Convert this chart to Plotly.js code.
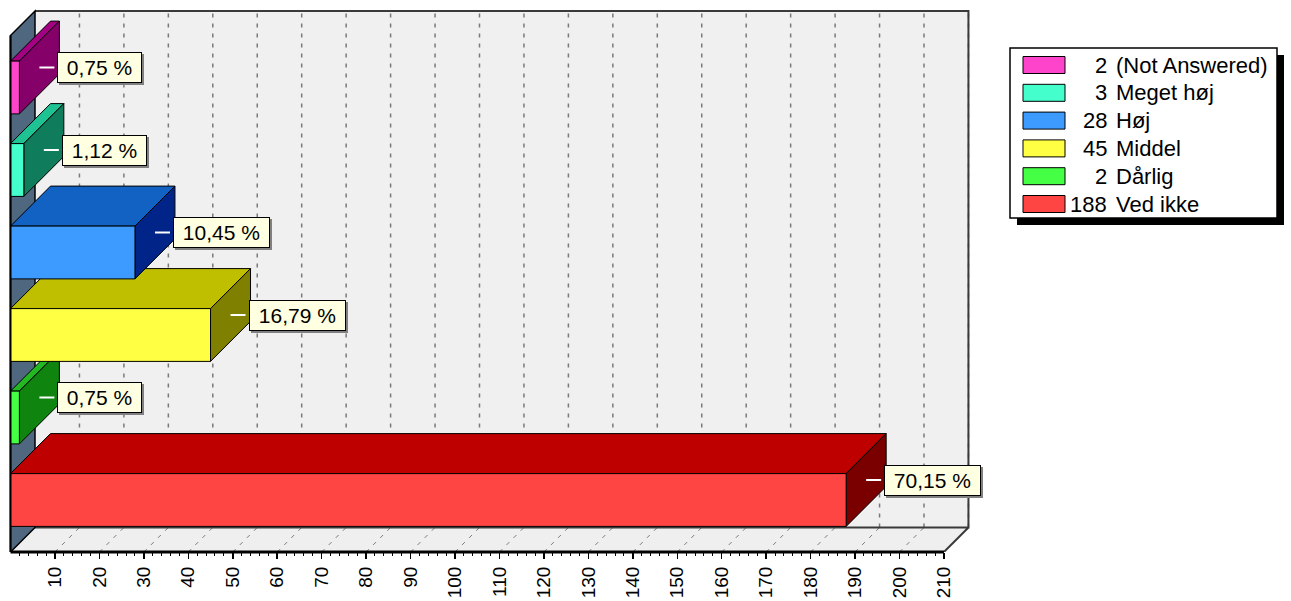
<!DOCTYPE html>
<html>
<head>
<meta charset="utf-8">
<script src="https://cdn.plot.ly/plotly-3.0.1.min.js"></script>
<style>
  html, body { margin: 0; padding: 0; background: #ffffff; }
  #chart { width: 1291px; height: 601px; }
</style>
</head>
<body>
<div id="chart"></div>
<script>
// ---------------- data (top to bottom as shown) ----------------
const categories = ['(Not Answered)', 'Meget høj', 'Høj', 'Middel', 'Dårlig', 'Ved ikke'];
const counts = [2, 3, 28, 45, 2, 188];
const percentLabels = ['0,75 %', '1,12 %', '10,45 %', '16,79 %', '0,75 %', '70,15 %'];
const tickVals = [10, 20, 30, 40, 50, 60, 70, 80, 90, 100, 110, 120, 130, 140, 150, 160, 170, 180, 190, 200, 210];
const tickText = ['10', '20', '30', '40', '50', '60', '70', '80', '90', '100', '110', '120', '130', '140', '150', '160', '170', '180', '190', '200', '210'];
const frontColors = ['#ff44cc', '#44ffcc', '#3d9bff', '#ffff44', '#44ff44', '#ff4444'];
const topColors   = ['#a30082', '#1fc293', '#1262c4', '#bfbf00', '#22b822', '#bf0000'];
const sideColors  = ['#850069', '#0f7d5b', '#002488', '#7f7f00', '#0f850f', '#7a0000'];

// ---------------- geometry (pixel scale of the axes) ----------------
const W = 1291, H = 601, PH = 552;          // plot area = 1291 x 552
const SX = 4.445, X0 = 10.5;                 // px per unit, px of value 0
const SY = 82.5, Y0 = 500;                   // px per category step, px of index 0
const toX = px => (px - X0) / SX;
const toY = py => (Y0 - py) / SY;
const xRange = [toX(0), toX(W)];
const yRange = [toY(PH), toY(0)];

const BAR_H = 0.64;                 // bar thickness in category units
const BDX = 40 / SX, BDY = 40 / SY; // bar depth
const WD = 24.5;                    // wall depth (px)
const WDX = WD / SX;
const FRONT_TOP = 35.5;
const xMax = tickVals[tickVals.length - 1];
const yBottom = yRange[0];
const yBackBottom = toY(PH - WD);
const yFrontTop = toY(FRONT_TOP);
const yBackTop = toY(FRONT_TOP - WD);

const n = categories.length;
const traces = [];
// draw lower bars first, upper bars last
for (let i = n - 1; i >= 0; i--) {
  const v = counts[i];
  const yc = n - 1 - i;
  const y0 = yc - BAR_H / 2, y1 = yc + BAR_H / 2;
  const faces = [
    { x: [0, v, v + BDX, BDX, 0], y: [y1, y1, y1 + BDY, y1 + BDY, y1], c: topColors[i] },
    { x: [v, v + BDX, v + BDX, v, v], y: [y0, y0 + BDY, y1 + BDY, y1, y0], c: sideColors[i] },
    { x: [0, v, v, 0, 0], y: [y0, y0, y1, y1, y0], c: frontColors[i] }
  ];
  faces.forEach(f => traces.push({
    type: 'scatter', mode: 'lines', x: f.x, y: f.y,
    fill: 'toself', fillcolor: f.c,
    line: { color: '#000000', width: 1 },
    hoverinfo: 'skip', showlegend: false
  }));
}

const shapes = [];
const pathOf = pts => 'M ' + pts.map(p => p[0] + ',' + p[1]).join(' L ') + ' Z';
// back wall
shapes.push({ type: 'rect', layer: 'below', xref: 'x', yref: 'y',
  x0: WDX, x1: xMax + WDX, y0: yBackBottom, y1: yBackTop,
  fillcolor: '#f0f0f0', line: { width: 0 } });
// floor
shapes.push({ type: 'path', layer: 'below', xref: 'x', yref: 'y',
  path: pathOf([[0, yBottom], [xMax, yBottom], [xMax + WDX, yBackBottom], [WDX, yBackBottom]]),
  fillcolor: '#efefef', line: { width: 0 } });
// gridlines on back wall and floor
tickVals.forEach(t => {
  shapes.push({ type: 'line', layer: 'below', xref: 'x', yref: 'y',
    x0: t + WDX, x1: t + WDX, y0: yBackBottom, y1: yBackTop,
    line: { color: '#7a7a7a', width: 1.5, dash: '4px,6px' } });
  shapes.push({ type: 'line', layer: 'below', xref: 'x', yref: 'y',
    x0: t, x1: t + WDX, y0: yBottom, y1: yBackBottom,
    line: { color: '#7a7a7a', width: 1, dash: '4px,6px' } });
});
// back wall border lines
shapes.push({ type: 'path', layer: 'below', xref: 'x', yref: 'y',
  path: 'M ' + WDX + ',' + yBackTop + ' L ' + (xMax + WDX) + ',' + yBackTop + ' L ' + (xMax + WDX) + ',' + yBackBottom +
        ' L ' + WDX + ',' + yBackBottom + ' M ' + (xMax + WDX) + ',' + yBackBottom + ' L ' + xMax + ',' + yBottom,
  line: { color: '#3a3a3a', width: 2 } });
// left wall
shapes.push({ type: 'path', layer: 'below', xref: 'x', yref: 'y',
  path: pathOf([[0, yBottom], [0, yFrontTop], [WDX, yBackTop], [WDX, yBackBottom]]),
  fillcolor: '#50687f', line: { color: '#000000', width: 1.5 } });
// axis lines
shapes.push({ type: 'line', layer: 'above', xref: 'x', yref: 'paper',
  x0: 0, x1: xMax, y0: 0, y1: 0, line: { color: '#000000', width: 3 } });
shapes.push({ type: 'line', layer: 'above', xref: 'x', yref: 'y',
  x0: 0, x1: 0, y0: yBottom, y1: yFrontTop, line: { color: '#000000', width: 2 } });

// value labels
const annotations = [];
const labelFont = 'Liberation Sans, Arial, sans-serif';
for (let i = 0; i < n; i++) {
  const hx = counts[i] + BDX / 2;
  const hy = (n - 1 - i) + BDY / 2;
  shapes.push({ type: 'line', layer: 'above', xref: 'x', yref: 'y',
    x0: hx, x1: hx + 15 / SX, y0: hy, y1: hy, line: { color: '#ffffff', width: 2 } });
  const txt = '\u00a0' + percentLabels[i] + '\u00a0';
  annotations.push({ x: hx, y: hy, xref: 'x', yref: 'y', showarrow: false,
    xanchor: 'left', yanchor: 'middle', xshift: 20, yshift: -2, text: txt,
    font: { family: labelFont, size: 21, color: '#808080' },
    bgcolor: '#808080', bordercolor: '#808080', borderwidth: 1, borderpad: 3, height: 23 });
  annotations.push({ x: hx, y: hy, xref: 'x', yref: 'y', showarrow: false,
    xanchor: 'left', yanchor: 'middle', xshift: 18, text: txt,
    font: { family: labelFont, size: 21, color: '#000000' },
    bgcolor: '#ffffe1', bordercolor: '#000000', borderwidth: 1, borderpad: 3, height: 23 });
}

// legend (drawn manually: wide swatches, right-aligned counts)
shapes.push({ type: 'rect', layer: 'above', xref: 'x', yref: 'y',
  x0: toX(1017), x1: toX(1284), y0: toY(225), y1: toY(55), fillcolor: '#000000', line: { width: 0 } });
shapes.push({ type: 'rect', layer: 'above', xref: 'x', yref: 'y',
  x0: toX(1010), x1: toX(1277), y0: toY(218), y1: toY(48), fillcolor: '#ffffff', line: { color: '#000000', width: 1.5 } });
for (let i = 0; i < n; i++) {
  const cy = 65 + 27.8 * i;
  shapes.push({ type: 'rect', layer: 'above', xref: 'x', yref: 'y',
    x0: toX(1023), x1: toX(1065), y0: toY(cy + 8.5), y1: toY(cy - 8.5),
    fillcolor: frontColors[i], line: { color: '#000000', width: 1 } });
  annotations.push({ x: toX(1109), y: toY(cy), xref: 'x', yref: 'y', showarrow: false,
    xanchor: 'right', yanchor: 'middle', text: String(counts[i]),
    font: { family: labelFont, size: 22, color: '#000000' } });
  annotations.push({ x: toX(1114), y: toY(cy), xref: 'x', yref: 'y', showarrow: false,
    xanchor: 'left', yanchor: 'middle', text: categories[i],
    font: { family: labelFont, size: 22, color: '#000000' } });
}

// minor ticks (every 2 units, between the labelled ones)
const minorVals = [];
for (let t = 2; t < xMax; t += 2) { if (t % 10 !== 0) minorVals.push(t); }

const layout = {
  width: W, height: H,
  margin: { l: 0, r: 0, t: 0, b: H - PH, pad: 0 },
  paper_bgcolor: '#ffffff', plot_bgcolor: 'rgba(0,0,0,0)',
  showlegend: false,
  xaxis: {
    range: xRange, fixedrange: true,
    tickmode: 'array', tickvals: tickVals, ticktext: tickText,
    ticks: 'outside', ticklen: 6, tickwidth: 1.5, tickcolor: '#000000',
    tickangle: -90, ticklabelstandoff: 0,
    tickfont: { family: labelFont, size: 19, color: '#000000' },
    showgrid: false, zeroline: false, showline: false,
    minor: { tickmode: 'array', tickvals: minorVals, ticks: 'outside', ticklen: 3, tickwidth: 1, tickcolor: '#000000', showgrid: false }
  },
  yaxis: { range: yRange, fixedrange: true, visible: false, showgrid: false, zeroline: false },
  shapes: shapes,
  annotations: annotations
};

Plotly.newPlot('chart', traces, layout, { displayModeBar: false, staticPlot: true });
</script>
</body>
</html>
